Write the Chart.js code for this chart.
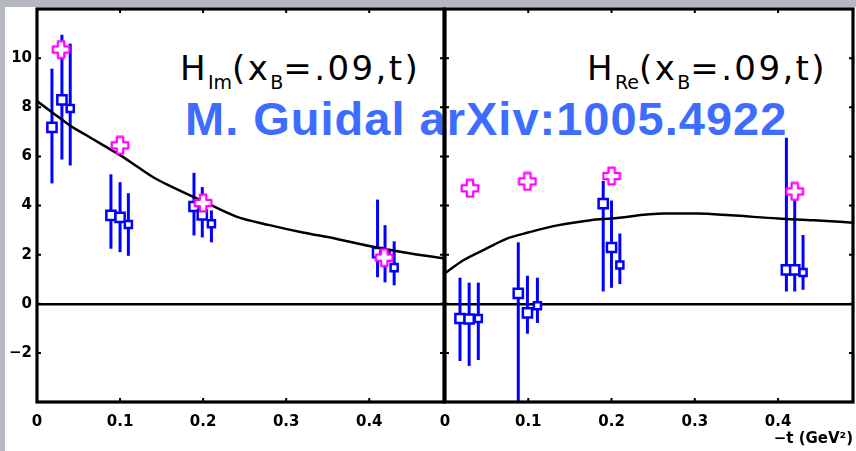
<!DOCTYPE html>
<html>
<head>
<script src="https://cdn.jsdelivr.net/npm/chart.js@4"></script>
<style>
body{margin:0;background:#b5b9bf;width:856px;height:451px;overflow:hidden;position:relative}
#paper{position:absolute;left:5px;top:7px;width:851px;height:444px;background:#fff}
canvas{position:absolute;top:0}
#cIm{left:0}
#cRe{left:430px}
.lbl{position:absolute;top:51px;font-family:"DejaVu Sans";font-size:34px;line-height:34px;color:#000;white-space:nowrap;letter-spacing:2.4px}
.lbl span{font-size:19px;vertical-align:-9px;letter-spacing:0}
#note{position:absolute;left:185px;top:95px;font-family:"Liberation Sans";font-weight:bold;font-size:47px;line-height:47px;color:#3d6cff;letter-spacing:1px;white-space:nowrap}
</style>
</head>
<body>
<div id="paper"></div>
<div class="lbl" style="left:180px">H<span>Im</span>(x<span>B</span>=.09,t)</div>
<div class="lbl" style="left:587px">H<span>Re</span>(x<span>B</span>=.09,t)</div>
<div id="note">M. Guidal arXiv:1005.4922</div>
<canvas id="cIm" width="446" height="451"></canvas>
<canvas id="cRe" width="426" height="451"></canvas>
<script>
// -t values (GeV^2), fitted H values and their error bars
var imT   = [0.018, 0.030, 0.040, 0.089, 0.100, 0.110, 0.189, 0.199, 0.210, 0.410, 0.419, 0.430];
var imVal = [7.18, 8.30, 7.95, 3.60, 3.52, 3.23, 3.96, 3.62, 3.26, 2.08, 1.95, 1.47];
var imLo  = [4.90, 5.87, 5.63, 2.24, 2.10, 1.95, 2.78, 2.70, 2.50, 1.08, 0.87, 0.75];
var imHi  = [9.57, 10.95, 10.59, 5.27, 4.95, 4.50, 5.33, 4.75, 3.80, 4.24, 3.20, 2.54];
var imModelT = [0.029, 0.100, 0.200, 0.418];
var imModelV = [10.35, 6.45, 4.10, 1.88];
var imCurveT = [0, 0.02, 0.04, 0.06, 0.08, 0.10, 0.12, 0.14, 0.16, 0.20, 0.24, 0.28, 0.32, 0.36, 0.40, 0.45, 0.49];
var imCurveV = [8.25, 7.75, 7.25, 6.85, 6.45, 6.05, 5.60, 5.15, 4.80, 4.17, 3.55, 3.20, 2.90, 2.65, 2.35, 2.05, 1.85];

var reT   = [0.018, 0.029, 0.040, 0.088, 0.099, 0.111, 0.190, 0.200, 0.210, 0.410, 0.420, 0.430];
var reVal = [-0.60, -0.62, -0.60, 0.42, -0.37, -0.08, 4.08, 2.29, 1.58, 1.38, 1.38, 1.27];
var reLo  = [-2.33, -2.53, -2.29, -4.60, -1.22, -0.78, 0.50, 0.65, 0.80, 0.50, 0.50, 0.57];
var reHi  = [1.06, 0.86, 0.86, 2.50, 1.14, 1.06, 5.00, 4.20, 2.86, 6.76, 4.70, 2.80];
var reModelT = [0.030, 0.099, 0.200, 0.420];
var reModelV = [4.70, 4.98, 5.20, 4.57];
var reCurveT = [0, 0.022, 0.05, 0.075, 0.10, 0.135, 0.175, 0.20, 0.263, 0.303, 0.343, 0.40, 0.443, 0.49];
var reCurveV = [1.24, 1.77, 2.25, 2.66, 2.90, 3.19, 3.40, 3.47, 3.67, 3.67, 3.60, 3.47, 3.40, 3.30];

var xTicks = [0, 0.1, 0.2, 0.3, 0.4];
var yTicks = [-4, -2, 0, 2, 4, 6, 8, 10, 12];

function plusMark() {
    var c = document.createElement('canvas');
    c.width = 20; c.height = 20;
    var g = c.getContext('2d');
    var a = 3.2, b = 8.3, m = 10;
    g.beginPath();
    g.moveTo(m-a, m-b); g.lineTo(m+a, m-b); g.lineTo(m+a, m-a); g.lineTo(m+b, m-a);
    g.lineTo(m+b, m+a); g.lineTo(m+a, m+a); g.lineTo(m+a, m+b); g.lineTo(m-a, m+b);
    g.lineTo(m-a, m+a); g.lineTo(m-b, m+a); g.lineTo(m-b, m-a); g.lineTo(m-a, m-a);
    g.closePath();
    g.fillStyle = '#fff'; g.fill();
    g.strokeStyle = '#ff00ff'; g.lineWidth = 2.2; g.lineJoin = 'round'; g.stroke();
    return c;
}
var plus = plusMark();

var framePlugin = {
    id: 'frame',
    afterDraw: function(chart) {
        var a = chart.chartArea, g = chart.ctx, xs = chart.scales.x, ys = chart.scales.y;
        g.save();
        g.strokeStyle = '#000';
        g.lineWidth = 2;
        xs.ticks.forEach(function(tk) {
            var px = xs.getPixelForValue(tk.value);
            g.beginPath();
            g.moveTo(px, a.bottom); g.lineTo(px, a.bottom - 4);
            g.moveTo(px, a.top); g.lineTo(px, a.top + 4);
            g.stroke();
        });
        ys.ticks.forEach(function(tk) {
            var py = ys.getPixelForValue(tk.value);
            g.beginPath();
            g.moveTo(a.left, py); g.lineTo(a.left + 4, py);
            g.moveTo(a.right, py); g.lineTo(a.right - 4, py);
            g.stroke();
        });
        g.lineWidth = 3.2;
        g.strokeRect(a.left, a.top, a.right - a.left, a.bottom - a.top);
        g.restore();
    }
};

function pts(xs, ys) {
    return xs.map(function(x, i) { return {x: x, y: ys[i]}; });
}

function makePanel(id, t, val, lo, hi, mt, mv, ct, cv, left) {
    var datasets = [
        {data: pts(mt, mv), showLine: false, pointStyle: plus, pointRadius: 9, order: 0},
        {data: pts(ct, cv), borderColor: '#000', borderWidth: 2.5, pointRadius: 0,
         cubicInterpolationMode: 'monotone', order: 1},
        {data: pts(t, val), showLine: false, pointStyle: 'rect',
         pointRadius: function(c) { return c.dataIndex % 3 === 2 ? 5 : 6.5; },
         pointBackgroundColor: '#fff', pointBorderColor: '#0000ff', pointBorderWidth: 2.5, order: 2}
    ];
    for (var i = 0; i < t.length; i++) {
        datasets.push({data: [{x: t[i], y: lo[i]}, {x: t[i], y: hi[i]}],
            borderColor: '#0000ff', borderWidth: 3, pointRadius: 0, order: 3});
    }
    var tickFont = {family: 'DejaVu Sans', weight: 'bold', size: 15};
    return new Chart(document.getElementById(id), {
        type: 'line',
        data: {datasets: datasets},
        plugins: [framePlugin],
        options: {
            responsive: false,
            animation: false,
            devicePixelRatio: 1,
            layout: {autoPadding: false, padding: {top: 9, right: left ? 2 : 3, left: 0, bottom: 0}},
            plugins: {legend: {display: false}, tooltip: {enabled: false}},
            scales: {
                x: {
                    type: 'linear', min: 0, max: 0.49,
                    afterBuildTicks: function(s) { s.ticks = xTicks.map(function(v) { return {value: v}; }); },
                    afterFit: function(s) { s.height = 49; s.paddingLeft = 0; s.paddingRight = 0; },
                    border: {display: false},
                    grid: {display: false},
                    ticks: {color: '#000', font: tickFont, padding: 3,
                            callback: function(v) { return v === 0 ? '0' : v.toFixed(1); }},
                    title: {display: !left, text: '\u2212t (GeV\u00B2)', align: 'end', color: '#000',
                            font: {family: 'DejaVu Sans', weight: 'bold', size: 15},
                            padding: {top: 0, bottom: 3}}
                },
                y: {
                    type: 'linear', min: -4, max: 12,
                    afterBuildTicks: function(s) { s.ticks = yTicks.map(function(v) { return {value: v}; }); },
                    afterFit: function(s) { s.width = left ? 37 : 15; s.paddingTop = 0; s.paddingBottom = 0; },
                    border: {display: false},
                    grid: {drawTicks: false,
                           color: function(c) { return c.tick && c.tick.value === 0 ? '#000' : 'rgba(0,0,0,0)'; },
                           lineWidth: 2.5},
                    ticks: {display: left, color: '#000', font: tickFont, padding: 5,
                            callback: function(v) {
                                if (v === -4 || v === 12) return '';
                                return v < 0 ? '\u2212' + (-v) : String(v);
                            }}
                }
            }
        }
    });
}

makePanel('cIm', imT, imVal, imLo, imHi, imModelT, imModelV, imCurveT, imCurveV, true);
makePanel('cRe', reT, reVal, reLo, reHi, reModelT, reModelV, reCurveT, reCurveV, false);
</script>
</body>
</html>
